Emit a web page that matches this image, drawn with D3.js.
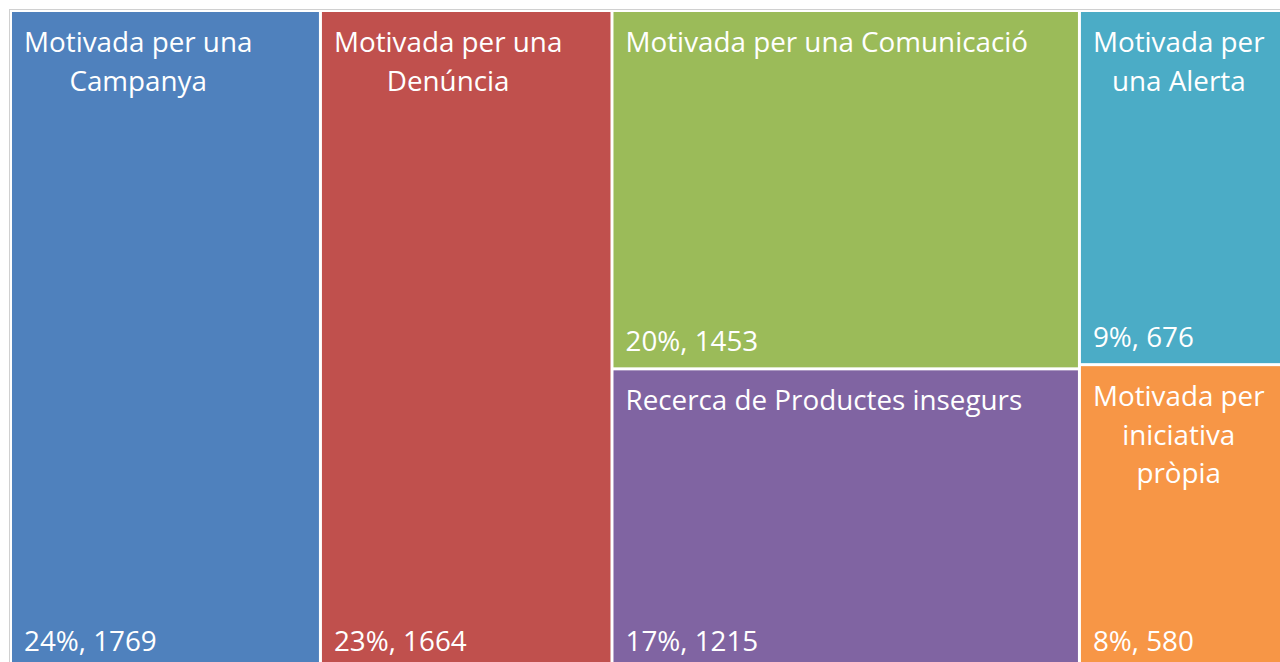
<!DOCTYPE html>
<html>
  <head>
    <meta charset="utf-8">
    <script src="https://d3js.org/d3.v7.min.js"></script>
    <title>Treemap</title>
    <style>
      body { margin: 0px; background: #ffffff; }
      .cell-label {
        fill: #ffffff;
        font-family: 'Open Sans', sans-serif;
        font-size: 27.8px;
      }
    </style>
  </head>
  <body>
    <div id="chart"></div>
    <script>

      // dades
      const names = [
        'Motivada per una\nCampanya',
        'Motivada per una\nDenúncia',
        'Motivada per una Comunicació',
        'Recerca de Productes insegurs',
        'Motivada per\nuna Alerta',
        'Motivada per\niniciativa\npròpia'
      ];
      const values = [1769, 1664, 1453, 1215, 676, 580];
      const pctLabel = ['24%', '23%', '20%', '17%', '9%', '8%'];
      const columns = [[0], [1], [2, 3], [4, 5]];
      const colors = ['#4F81BD', '#C0504D', '#9BBB59', '#8064A2', '#4BACC6', '#F79646'];

      const margin = { left: 12, top: 12 };
      const width = 1286;
      const height = 655;

      const svg = d3.select('#chart').append('svg')
        .attr('width', 1280)
        .attr('height', 662);

      // marc gris del grafic
      svg.append('rect')
        .attr('x', 9.5)
        .attr('y', 9.5)
        .attr('width', 1300)
        .attr('height', 700)
        .attr('fill', 'none')
        .attr('stroke', '#d0d0d0')
        .attr('stroke-width', 1);

      const data = {
        name: 'root',
        children: columns.map((c, ci) => ({
          name: 'col' + ci,
          children: c.map(i => ({ name: names[i], value: values[i], idx: i }))
        }))
      };

      const root = d3.hierarchy(data).sum(d => d.value || 0);

      d3.treemap()
        .size([width, height])
        .paddingInner(3)
        .tile((node, x0, y0, x1, y1) => {
          if (node.depth === 0) d3.treemapDice(node, x0, y0, x1, y1);
          else d3.treemapSlice(node, x0, y0, x1, y1);
        })(root);

      const g = svg.append('g')
        .attr('transform', `translate(${margin.left},${margin.top})`);

      const leaf = g.selectAll('g.leaf').data(root.leaves())
        .enter().append('g')
          .attr('class', 'leaf')
          .attr('transform', d => `translate(${d.x0},${d.y0})`);

      leaf.append('rect')
        .attr('width', d => d.x1 - d.x0)
        .attr('height', d => d.y1 - d.y0)
        .attr('fill', d => colors[d.data.idx]);

      // nom de la categoria (linies centrades entre elles)
      leaf.each(function(d) {
        const lines = d.data.name.split('\n');
        const tg = d3.select(this).append('g');
        const t = tg.append('text')
          .attr('class', 'cell-label');
        lines.forEach((l, i) => {
          t.append('tspan')
            .attr('x', 0)
            .attr('y', 40 + i * 38.5)
            .attr('text-anchor', 'middle')
            .text(l);
        });
        const w = d3.max(t.selectAll('tspan').nodes(), n => n.getComputedTextLength());
        tg.attr('transform', `translate(${12 + w / 2},0)`);
      });

      // percentatge i valor
      leaf.append('text')
        .attr('class', 'cell-label')
        .attr('x', 12)
        .attr('y', d => d.y1 - d.y0 - 16)
        .text(d => pctLabel[d.data.idx] + ', ' + d.data.value);

    </script>
  </body>
</html>
